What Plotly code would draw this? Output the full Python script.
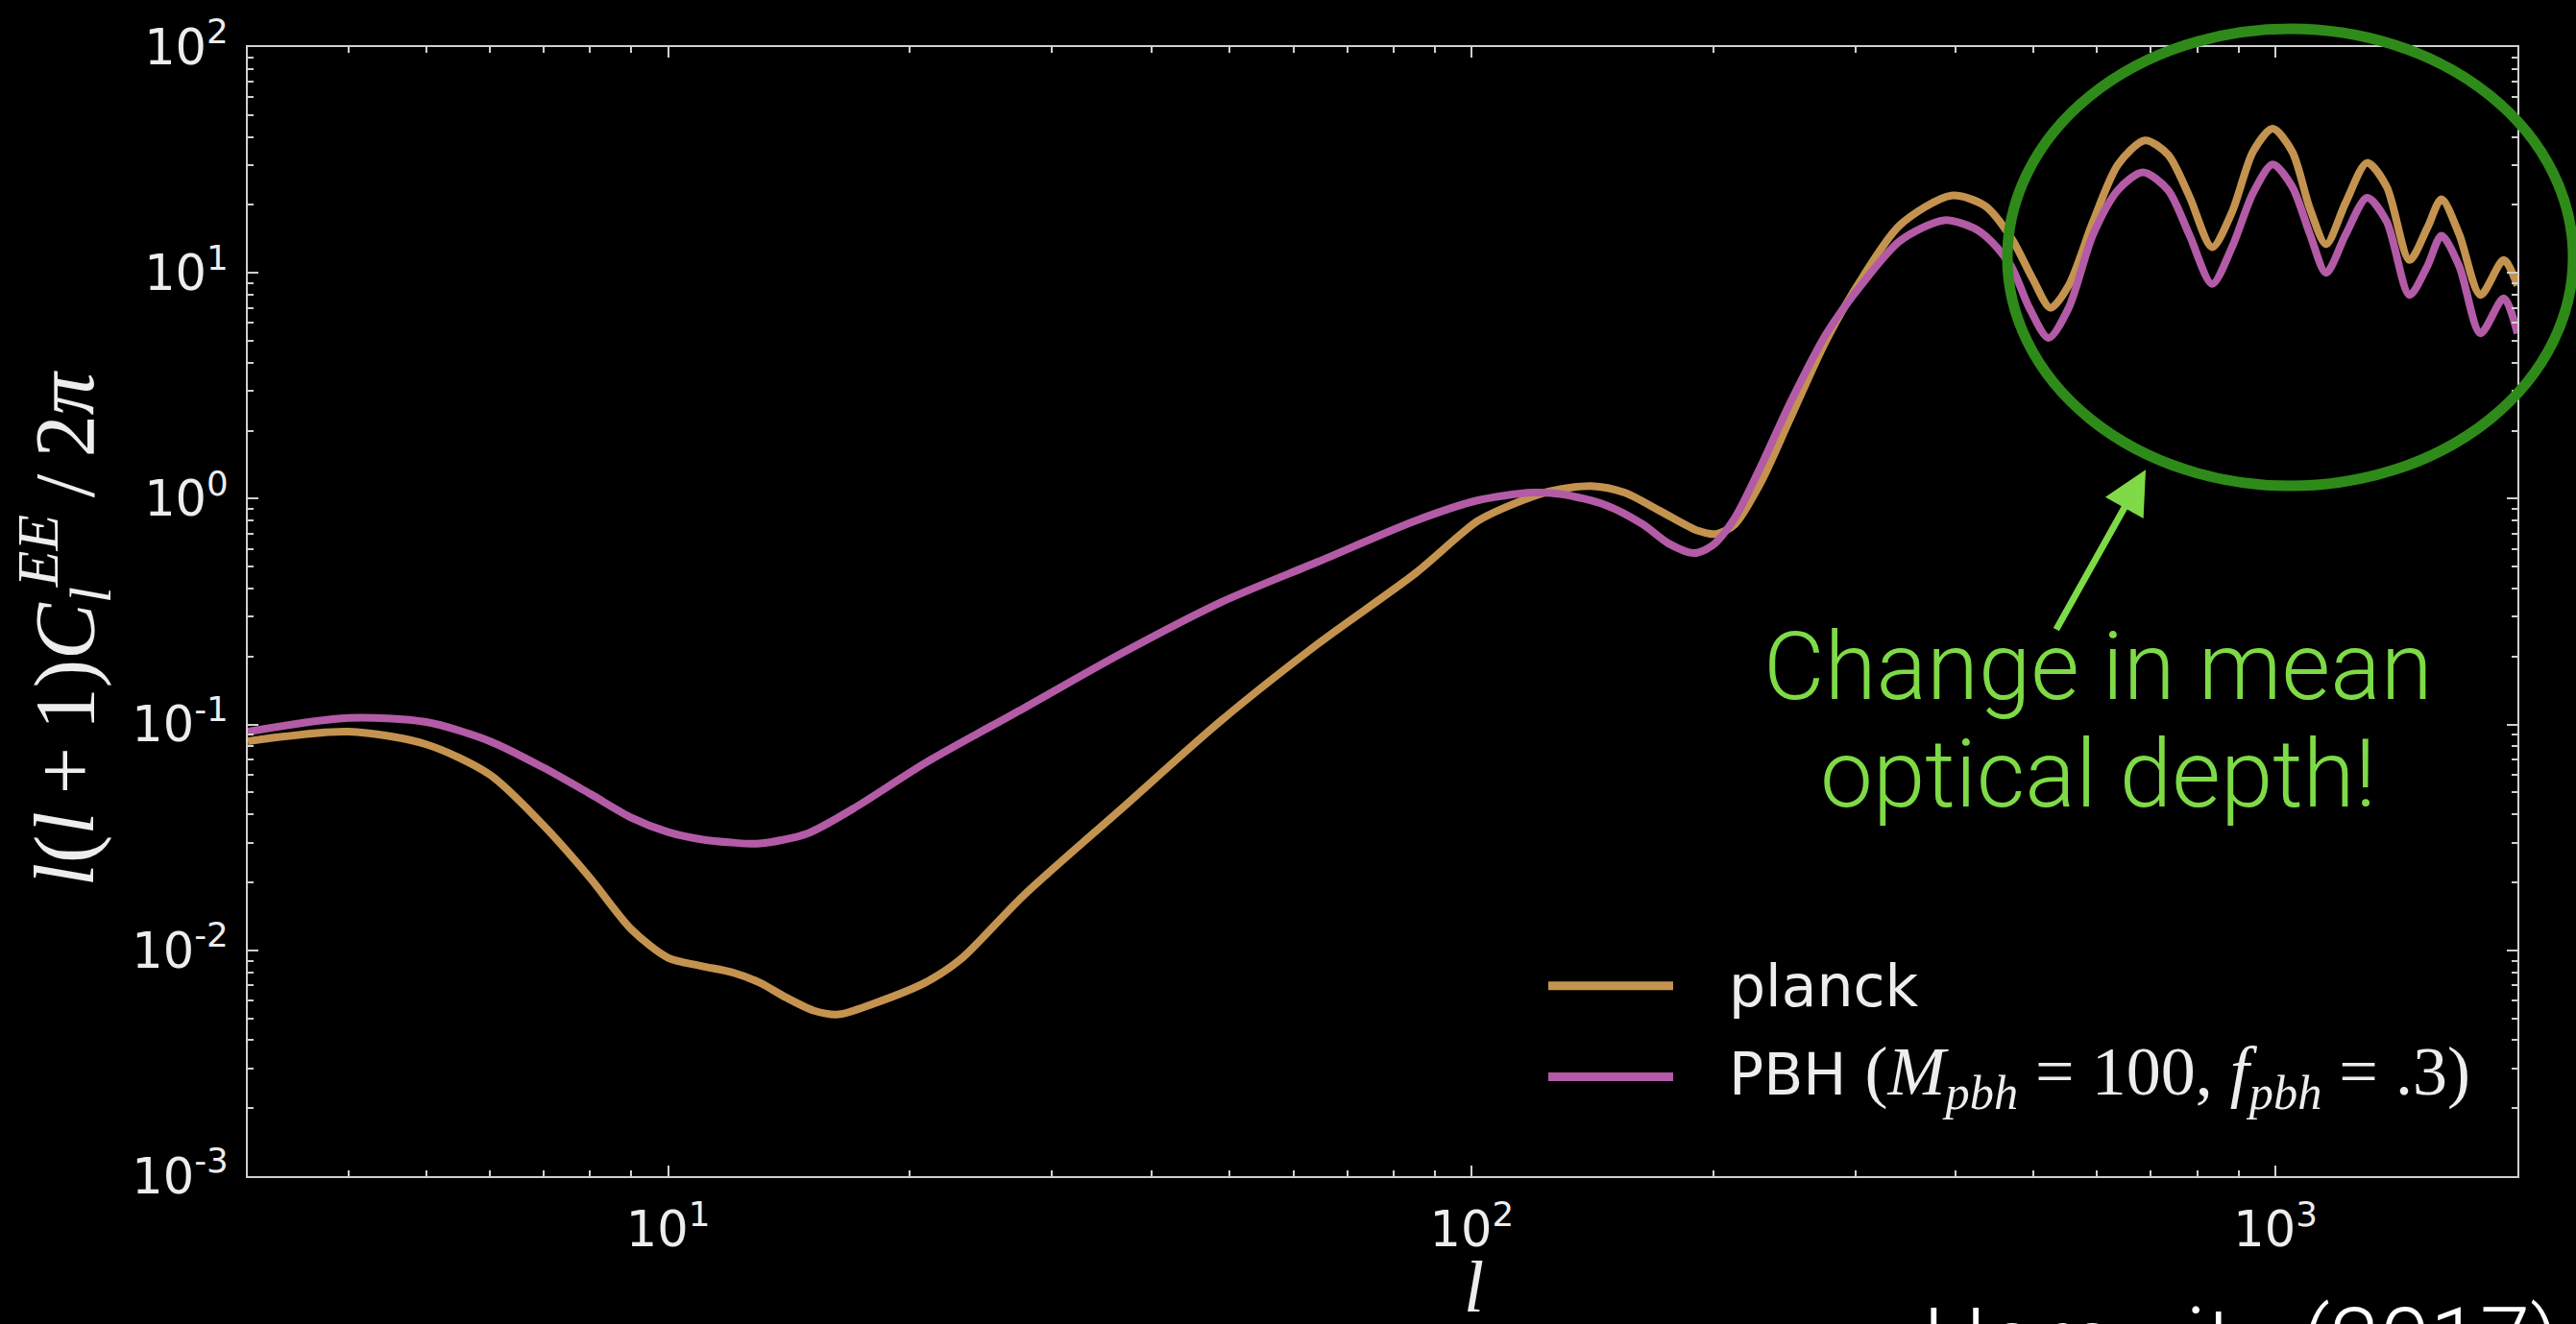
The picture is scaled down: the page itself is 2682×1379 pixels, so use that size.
import math
import plotly.graph_objects as go

# EE polarisation power spectrum, l(l+1)C_l^EE / 2pi
ell_planck = [3, 4, 5, 6, 7, 8, 9, 10, 11, 12, 13, 14, 15.2, 16.3, 18, 20.9, 23.1, 27.7,
              36.7, 48.6, 64.4, 85.2, 101.6, 112.9, 125.5, 140.8, 154.9, 172.1, 191.2,
              201.5, 212.4, 228.7, 248.8, 276.4, 307.1, 341.2, 395, 435, 469, 499, 525,
              553, 593, 637, 688, 735, 781, 834, 883, 938, 992, 1049, 1104, 1156, 1223,
              1300, 1375, 1468, 1545, 1609, 1693, 1799, 1923, 2000]
cl_planck = [0.0844, 0.093, 0.0817, 0.060, 0.0357, 0.0209, 0.0124, 0.00927, 0.00853, 0.0080,
             0.0072, 0.0062, 0.0054, 0.0052, 0.0058, 0.0072, 0.0091, 0.0175, 0.0425, 0.103,
             0.228, 0.469, 0.794, 0.950, 1.082, 1.137, 1.064, 0.876, 0.721, 0.698, 0.769,
             1.173, 2.25, 5.07, 9.70, 16.3, 22.0, 19.8, 14.3, 9.39, 7.0, 8.8, 16.9, 30.2,
             38.6, 33.4, 21.9, 13.0, 18.6, 34.5, 43.5, 34.5, 19.2, 13.4, 20.5, 30.7, 24.1,
             11.4, 15.8, 21.2, 14.8, 7.98, 11.4, 8.8]

ell_pbh = [3, 4, 5, 6, 7, 8, 9, 10, 11, 12, 13, 14.9, 17, 20.9, 27.7, 36.7, 48.6, 64.4,
           85.2, 101.6, 119, 129.5, 146.9, 163.3, 175.8, 189.2, 199.4, 212.4, 228.7, 248.8,
           276.4, 307.1, 341.2, 387, 421, 442, 469, 494, 522, 553, 593, 637, 684, 735, 781,
           834, 883, 938, 992, 1049, 1104, 1156, 1223, 1300, 1375, 1468, 1545, 1609, 1693,
           1799, 1923, 2000]
cl_pbh = [0.093, 0.107, 0.1026, 0.0844, 0.0644, 0.0493, 0.0387, 0.0334, 0.031, 0.030, 0.0297,
          0.0329, 0.0424, 0.0676, 0.118, 0.207, 0.346, 0.526, 0.80, 0.982, 1.064, 1.047,
          0.935, 0.769, 0.633, 0.574, 0.622, 0.821, 1.38, 2.64, 5.40, 9.09, 13.87, 17.1,
          15.8, 13.9, 10.7, 7.0, 5.15, 7.0, 14.8, 23.3, 27.9, 23.3, 14.8, 8.94, 13.0, 22.6,
          30.2, 24.1, 14.8, 10.0, 14.8, 21.5, 16.9, 7.98, 10.7, 14.6, 10.7, 5.40, 7.72, 5.40]

x_tick_exps = [1, 2, 3]
y_tick_exps = [-3, -2, -1, 0, 1, 2]

GOLD = "#C4934F"
MAGENTA = "#B35BA6"
LIME = "#7EDB47"
DARK_GREEN = "#2F8B19"
AXIS_GREY = "#CFCFCF"

W, H = 2682, 1379
ML, MR, MT, MB = 258, 61, 44, 154
PW, PH = W - ML - MR, H - MT - MB


def px(x):
    return (x - ML) / PW


def py(y):
    return (H - MB - y) / PH


fig = go.Figure()
fig.add_trace(go.Scatter(x=ell_planck, y=cl_planck, mode="lines", name="planck",
                         line=dict(color=GOLD, width=8, shape="spline", smoothing=0.8)))
fig.add_trace(go.Scatter(x=ell_pbh, y=cl_pbh, mode="lines", name="PBH",
                         line=dict(color=MAGENTA, width=8, shape="spline", smoothing=0.8)))

x_minor = [m * 10 ** e for e in range(0, 4) for m in range(2, 10) if 3 < m * 10 ** e < 2000]
y_minor = [m * 10.0 ** e for e in range(-3, 2) for m in range(2, 10)]

tick_font = dict(family="DejaVu Sans", size=51, color="#EDEDED")
axis_common = dict(
    type="log", showgrid=False, zeroline=False, showline=True, linecolor=AXIS_GREY,
    linewidth=2, mirror="allticks", ticks="inside", ticklen=11, tickwidth=2,
    tickcolor=AXIS_GREY, tickfont=tick_font, tickmode="array",
)

fig.update_xaxes(
    **axis_common,
    range=[math.log10(3), math.log10(2000)],
    tickvals=[10 ** e for e in x_tick_exps],
    ticktext=[f"10<sup>{e}</sup>" for e in x_tick_exps],
    ticklabelstandoff=10,
    minor=dict(tickmode="array", tickvals=x_minor, ticks="inside", ticklen=6,
               tickwidth=1.5, tickcolor=AXIS_GREY, showgrid=False),
)
fig.update_yaxes(
    **axis_common,
    range=[-3, 2],
    tickvals=[10.0 ** e for e in y_tick_exps],
    ticktext=[f"10<sup>{e}</sup>" for e in y_tick_exps],
    ticklabelstandoff=8,
    minor=dict(tickmode="array", tickvals=y_minor, ticks="inside", ticklen=6,
               tickwidth=1.5, tickcolor=AXIS_GREY, showgrid=False),
)

serif = "Liberation Serif"
annotations = [
    # axis titles
    dict(x=px(66), y=py(652), xref="paper", yref="paper", textangle=-90,
         text="<i>l</i>(<i>l</i>\u2009+\u20091)<i>C</i><sub><i>l</i></sub>"
              "<sup><i>EE</i></sup>\u2009/\u20092<i>π</i>",
         font=dict(family=serif, size=88, color="#EDEDED"), showarrow=False,
         xanchor="center", yanchor="middle"),
    dict(x=px(1534), y=py(1340), xref="paper", yref="paper", text="<i>l</i>",
         font=dict(family=serif, size=76, color="#EDEDED"), showarrow=False,
         xanchor="center", yanchor="middle"),
    # legend labels
    dict(x=px(1798), y=py(1026), xref="paper", yref="paper", text="planck",
         font=dict(family="DejaVu Sans", size=60, color="#EDEDED"), showarrow=False,
         xanchor="left", yanchor="middle"),
    dict(x=px(1798), y=py(1121), xref="paper", yref="paper",
         text="PBH <span style='font-family:Liberation Serif;font-size:72px'>"
              "(<i>M</i><sub><i>pbh</i></sub> = 100, <i>f</i><sub><i>pbh</i></sub> = .3)</span>",
         font=dict(family="DejaVu Sans", size=60, color="#EDEDED"), showarrow=False,
         xanchor="left", yanchor="middle"),
    # call-out
    dict(x=px(2184), y=py(692), xref="paper", yref="paper", text="Change in mean",
         font=dict(family="Roboto", size=98, color=LIME, weight=300), showarrow=False,
         xanchor="center", yanchor="middle"),
    dict(x=px(2184), y=py(805), xref="paper", yref="paper", text="optical depth!",
         font=dict(family="Roboto", size=98, color=LIME, weight=300), showarrow=False,
         xanchor="center", yanchor="middle"),
    dict(x=px(2234), y=py(486), xref="paper", yref="paper", text="", showarrow=True,
         ax=2140 - 2234, ay=654 - 486, arrowhead=2, arrowsize=1.3, arrowwidth=7,
         arrowcolor=LIME, standoff=0),
    # citation
    dict(x=px(2000), y=py(1340), xref="paper", yref="paper", text="Horowitz (2017)",
         font=dict(family="Roboto", size=94, color="#FFFFFF", weight=300), showarrow=False,
         xanchor="left", yanchor="top"),
]

shapes = [
    dict(type="line", xref="paper", yref="paper", x0=px(1612), x1=px(1742),
         y0=py(1026), y1=py(1026), line=dict(color=GOLD, width=9)),
    dict(type="line", xref="paper", yref="paper", x0=px(1612), x1=px(1742),
         y0=py(1121), y1=py(1121), line=dict(color=MAGENTA, width=9)),
    dict(type="circle", xref="paper", yref="paper", x0=px(2090), x1=px(2679),
         y0=py(503), y1=py(25), line=dict(color=DARK_GREEN, width=11)),
]

fig.update_layout(
    width=W, height=H,
    margin=dict(l=ML, r=MR, t=MT, b=MB, pad=0),
    paper_bgcolor="black", plot_bgcolor="black",
    showlegend=False,
    annotations=annotations,
    shapes=shapes,
)

fig.write_html("out.html")
